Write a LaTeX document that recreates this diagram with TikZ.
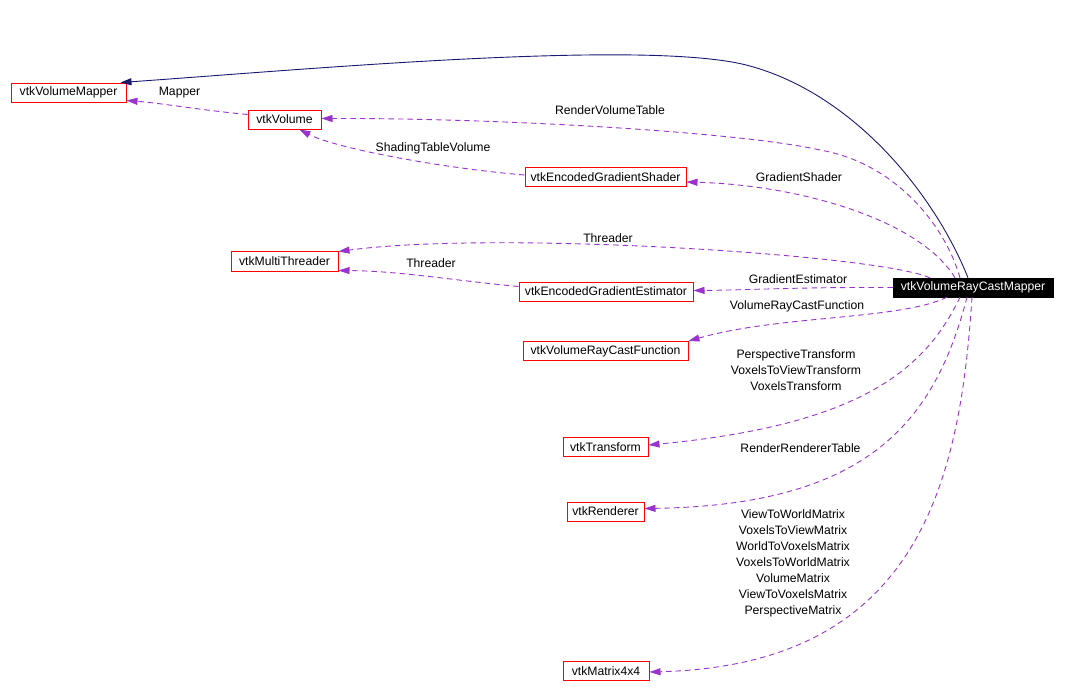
\documentclass[tikz,border=0pt]{standalone}
\usepackage{fontspec}
\setmainfont{Liberation Sans}
\usetikzlibrary{arrows.meta}
\definecolor{depcol}{HTML}{9A32CD}
\definecolor{inhcol}{HTML}{191970}
\begin{document}
\begin{tikzpicture}[x=1pt,y=-1pt,
  cls/.style={draw=red, line width=1pt, minimum height=19pt, inner sep=0pt,
    font=\fontsize{12.2pt}{14pt}\selectfont},
  mainbox/.style={fill=black, draw=black, text=white, minimum height=19pt, inner sep=0pt,
    font=\fontsize{12.2pt}{14pt}\selectfont},
  lbl/.style={inner sep=0pt, align=center, font=\fontsize{12.2pt}{16pt}\selectfont},
  dep/.style={draw=depcol, line width=0.9pt, dash pattern=on 5.5pt off 4pt,
    -{Triangle[length=11pt,width=7pt,fill=depcol]}},
  inh/.style={draw=inhcol, line width=0.9pt,
    -{Triangle[length=11pt,width=7pt,fill=inhcol]}}
]
\useasboundingbox (0,0) rectangle (1066,697);

% nodes
\node[cls, minimum width=115pt] (vmapper) at (68.5,92.5) {vtkVolumeMapper};
\node[cls, minimum width=73pt] (vol) at (284.5,119.5) {vtkVolume};
\node[cls, minimum width=161pt] (shader) at (605.5,177) {vtkEncodedGradientShader};
\node[cls, minimum width=107pt, minimum height=20pt] (mt) at (284.5,261) {vtkMultiThreader};
\node[cls, minimum width=174pt] (est) at (606,291.5) {vtkEncodedGradientEstimator};
\node[mainbox, minimum width=160pt] (rcm) at (973,287.5) {vtkVolumeRayCastMapper};
\node[cls, minimum width=165pt] (fn) at (605.5,351) {vtkVolumeRayCastFunction};
\node[cls, minimum width=85pt] (tr) at (605.5,447) {vtkTransform};
\node[cls, minimum width=77pt] (ren) at (605.5,511.5) {vtkRenderer};
\node[cls, minimum width=86pt] (mat) at (606,671) {vtkMatrix4x4};

% inheritance
\draw[inh] ([xshift=-5pt]rcm.north) .. controls (935,195) and (855,95) .. (750,66)
  .. controls (650,38) and (300,70) .. ([xshift=-6pt]vmapper.north east);

% dependencies
\draw[dep] ([yshift=5pt]vol.west) .. controls (200,110) and (160,103) .. ([yshift=2pt]vmapper.south east);
\draw[dep] ([xshift=-13pt]rcm.north) .. controls (945,225) and (895,163) .. (820,150)
  .. controls (740,132) and (500,118) .. ([yshift=1pt]vol.east);
\draw[dep] ([yshift=2pt]shader.west) .. controls (440,168) and (335,148) .. ([xshift=15pt]vol.south);
\draw[dep] ([xshift=-18pt]rcm.north) .. controls (920,220) and (800,185) .. ([yshift=-5pt]shader.east);
\draw[dep] ([xshift=37pt]rcm.north west) .. controls (880,255) and (500,230) .. ([yshift=-1pt]mt.north east);
\draw[dep] ([yshift=5pt]est.west) .. controls (450,280) and (400,271) .. ([yshift=1pt]mt.south east);
\draw[dep] (rcm.west) .. controls (800,287) and (750,290) .. ([yshift=1pt]est.east);
\draw[dep] ([xshift=-26pt]rcm.south) .. controls (900,320) and (780,315) .. (fn.north east);
\draw[dep] ([xshift=-13pt]rcm.south) .. controls (925,370) and (860,425) .. ([yshift=2pt]tr.east);
\draw[dep] ([xshift=-6pt]rcm.south) .. controls (935,420) and (870,505) .. ([yshift=3pt]ren.east);
\draw[dep] ([xshift=-1pt]rcm.south) .. controls (960,480) and (920,665) .. ([yshift=-1pt]mat.east);

% labels
\node[lbl] (lMapper) at (179.5,93) {Mapper};
\node[lbl] (lRVT) at (610,110) {RenderVolumeTable};
\node[lbl] (lSTV) at (433,148) {ShadingTableVolume};
\node[lbl] (lGS) at (799,177) {GradientShader};
\node[lbl] (lThrA) at (608,238) {Threader};
\node[lbl] (lThrB) at (431,263) {Threader};
\node[lbl] (lGE) at (798,279) {GradientEstimator};
\node[lbl] (lVRCF) at (797,306) {VolumeRayCastFunction};
\node[lbl] (lTr) at (796,370) {PerspectiveTransform\\VoxelsToViewTransform\\VoxelsTransform};
\node[lbl] (lRen) at (800.5,448) {RenderRendererTable};
\node[lbl] (lMat) at (793,563) {ViewToWorldMatrix\\VoxelsToViewMatrix\\WorldToVoxelsMatrix\\VoxelsToWorldMatrix\\VolumeMatrix\\ViewToVoxelsMatrix\\PerspectiveMatrix};
\end{tikzpicture}
\end{document}
